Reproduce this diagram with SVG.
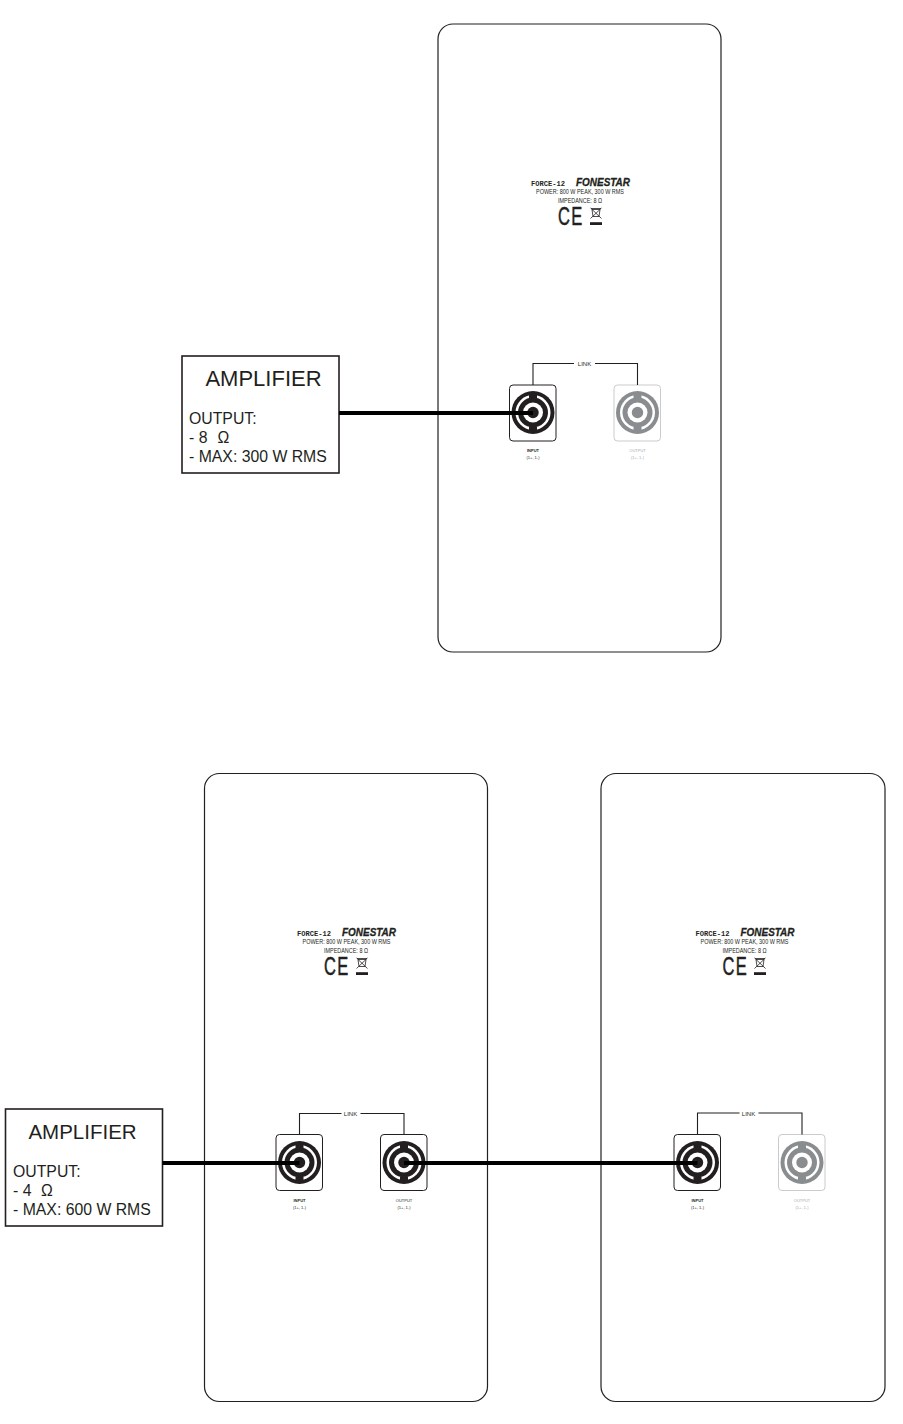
<svg xmlns="http://www.w3.org/2000/svg" width="903" height="1424" viewBox="0 0 903 1424">
<style>
text{font-family:"Liberation Sans",Arial,sans-serif;fill:#231f20}
.panel{fill:#fff;stroke:#231f20;stroke-width:1.2}
.amp{fill:#fff;stroke:#231f20;stroke-width:1.6}
.title{font-size:22px;text-anchor:middle}
.title2{font-size:20.500px;text-anchor:middle}
.body{font-size:15.8px}
.model{font-family:"Liberation Mono",monospace;font-size:7px;font-weight:bold}
.brand{font-size:11px;font-weight:bold;font-style:italic;stroke:#231f20;stroke-width:.3}
.spec{font-size:6.8px}
.ce{font-size:25px;letter-spacing:2px;stroke:#231f20;stroke-width:.5}
.tiny{font-size:4px;text-anchor:middle}
.tinyb{font-size:4px;font-weight:bold;text-anchor:middle}
.grey{fill:#a7a9ac}
.link{font-size:6px;text-anchor:middle}
.wire{fill:none;stroke:#000;stroke-width:4}
.thin{fill:none;stroke:#231f20;stroke-width:1.1}
</style>
<defs>
<g id="jack">
<circle r="21.500" fill="currentColor"/>
<circle r="17.500" fill="#fff"/>
<path d="M-4-18.500H4V-14H-4ZM-4 14H4V18.500H-4Z" fill="currentColor"/>
<circle r="15" fill="currentColor"/>
<circle r="10" fill="#fff"/>
<circle r="5.700" fill="currentColor"/>
</g>
<g id="weee">
<path d="M-4-7.500H4L3-0.500H-3ZM-5-8.500H5M-5.500-9L5.500 1.500M5.500-9L-5.500 1.500" fill="none" stroke="#231f20" stroke-width=".8"/>
<rect x="-6" y="5.200" width="12" height="2.800" fill="#231f20"/>
</g>
</defs>

<g id="speaker-1">
<rect class="panel" x="438" y="24" width="283" height="628" rx="15"/>
<text class="model" x="531" y="185.500" textLength="34" lengthAdjust="spacingAndGlyphs">FORCE-12</text>
<text class="brand" x="576" y="185.500" textLength="54" lengthAdjust="spacingAndGlyphs">FONESTAR</text>
<text class="spec" x="536" y="194" textLength="88" lengthAdjust="spacingAndGlyphs">POWER: 800 W PEAK, 300 W RMS</text>
<text class="spec" x="558" y="203" textLength="44" lengthAdjust="spacingAndGlyphs">IMPEDANCE: 8 Ω</text>
<text class="ce" transform="translate(558 224.500) scale(.66 1)">CE</text>
<use href="#weee" x="596" y="217"/>
<rect x="509.500" y="385" width="46.500" height="56" rx="3.500" fill="#fff" stroke="#231f20"/>
<use href="#jack" x="533" y="412.500" color="#231f20"/>
<text class="tinyb" x="533" y="452">INPUT</text>
<text class="tiny" x="533" y="459">(1+, 1-)</text>
<rect x="614" y="385" width="46.500" height="56" rx="3.500" fill="#fff" stroke="#c9cbcc"/>
<use href="#jack" x="637.500" y="412.500" color="#8a8d8f"/>
<text class="tiny grey" x="637.500" y="452">OUTPUT</text>
<text class="tiny grey" x="637.500" y="459">(1+, 1-)</text>
</g>

<g id="amplifier-1">
<rect class="amp" x="182" y="356" width="157" height="117"/>
<text class="title" x="263.500" y="386">AMPLIFIER</text>
<text class="body" x="189" y="424">OUTPUT:</text>
<text class="body" x="189" y="443">- 8<tspan x="217.500">Ω</tspan></text>
<text class="body" x="189" y="462">- MAX: 300 W RMS</text>
</g>

<g id="speaker-2">
<rect class="panel" x="204.500" y="773.500" width="283" height="628" rx="15"/>
<text class="model" x="297" y="935.500" textLength="34" lengthAdjust="spacingAndGlyphs">FORCE-12</text>
<text class="brand" x="342" y="935.500" textLength="54" lengthAdjust="spacingAndGlyphs">FONESTAR</text>
<text class="spec" x="302.500" y="944" textLength="88" lengthAdjust="spacingAndGlyphs">POWER: 800 W PEAK, 300 W RMS</text>
<text class="spec" x="324" y="953" textLength="44" lengthAdjust="spacingAndGlyphs">IMPEDANCE: 8 Ω</text>
<text class="ce" transform="translate(324 974.500) scale(.66 1)">CE</text>
<use href="#weee" x="362" y="967"/>
<rect x="276" y="1134.500" width="46.500" height="56" rx="3.500" fill="#fff" stroke="#231f20"/>
<use href="#jack" x="299.500" y="1162.500" color="#231f20"/>
<text class="tinyb" x="299.500" y="1201.500">INPUT</text>
<text class="tiny" x="299.500" y="1208.500">(1+, 1-)</text>
<rect x="380.500" y="1134.500" width="46.500" height="56" rx="3.500" fill="#fff" stroke="#231f20"/>
<use href="#jack" x="404" y="1162.500" color="#231f20"/>
<text class="tiny" x="404" y="1201.500">OUTPUT</text>
<text class="tiny" x="404" y="1208.500">(1+, 1-)</text>
</g>

<g id="speaker-3">
<rect class="panel" x="601" y="773.500" width="284" height="628" rx="15"/>
<text class="model" x="695.500" y="935.500" textLength="34" lengthAdjust="spacingAndGlyphs">FORCE-12</text>
<text class="brand" x="740.500" y="935.500" textLength="54" lengthAdjust="spacingAndGlyphs">FONESTAR</text>
<text class="spec" x="700.500" y="944" textLength="88" lengthAdjust="spacingAndGlyphs">POWER: 800 W PEAK, 300 W RMS</text>
<text class="spec" x="722.500" y="953" textLength="44" lengthAdjust="spacingAndGlyphs">IMPEDANCE: 8 Ω</text>
<text class="ce" transform="translate(722.500 974.500) scale(.66 1)">CE</text>
<use href="#weee" x="760" y="967"/>
<rect x="674" y="1134.500" width="46.500" height="56" rx="3.500" fill="#fff" stroke="#231f20"/>
<use href="#jack" x="697.500" y="1162.500" color="#231f20"/>
<text class="tinyb" x="697.500" y="1201.500">INPUT</text>
<text class="tiny" x="697.500" y="1208.500">(1+, 1-)</text>
<rect x="778.500" y="1134.500" width="46.500" height="56" rx="3.500" fill="#fff" stroke="#c9cbcc"/>
<use href="#jack" x="802" y="1162.500" color="#8a8d8f"/>
<text class="tiny grey" x="802" y="1201.500">OUTPUT</text>
<text class="tiny grey" x="802" y="1208.500">(1+, 1-)</text>
</g>

<g id="amplifier-2">
<rect class="amp" x="5.500" y="1109" width="157" height="117"/>
<text class="title2" x="82.500" y="1139">AMPLIFIER</text>
<text class="body" x="13" y="1177">OUTPUT:</text>
<text class="body" x="13" y="1196">- 4<tspan x="41">Ω</tspan></text>
<text class="body" x="13" y="1215">- MAX: 600 W RMS</text>
</g>

<g id="connectors">
<path class="thin" d="M533 385V363.500H574M595 363.500H637.500V385"/>
<path class="thin" d="M299.500 1134.500V1113.500H341.500M360.500 1113.500H404V1134.500"/>
<path class="thin" d="M697.500 1134.500V1113H739.500M758.500 1113H802V1134.500"/>
<path class="wire" d="M339 413H533"/>
<path class="wire" d="M162.500 1163H299.500"/>
<path class="wire" d="M404 1163H697.500"/>
<text class="link" x="584.500" y="366">LINK</text>
<text class="link" x="350.500" y="1116">LINK</text>
<text class="link" x="748.500" y="1115.500">LINK</text>
</g>
</svg>
